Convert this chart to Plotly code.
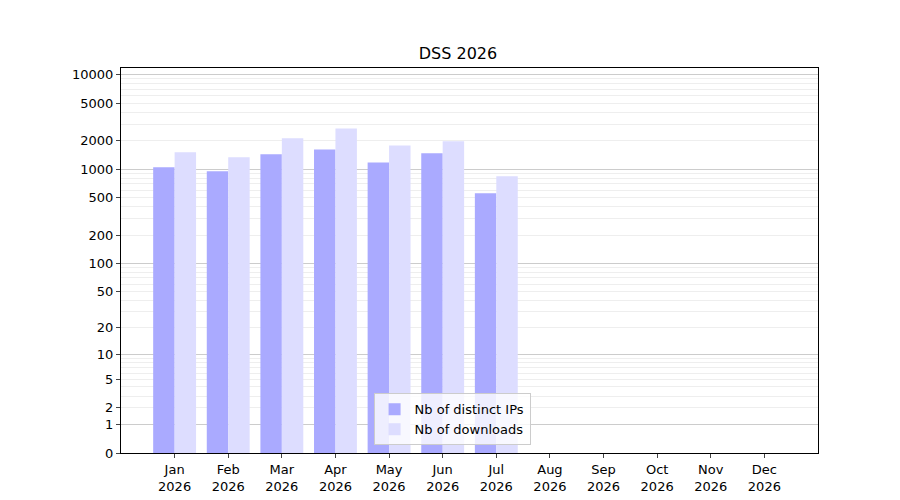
import math
import plotly.graph_objects as go

months = ["Jan","Feb","Mar","Apr","May","Jun","Jul","Aug","Sep","Oct","Nov","Dec"]
year = "2026"
ips = [1050, 950, 1440, 1620, 1180, 1470, 557]
downloads = [1510, 1335, 2120, 2700, 1780, 1970, 843]
tick_values = [0, 1, 2, 5, 10, 20, 50, 100, 200, 500, 1000, 2000, 5000, 10000]
decades = [1, 10, 100, 1000, 10000]

def tr(v):
    return math.log10(1 + v)

minor = [m * d for d in [1, 10, 100, 1000] for m in range(2, 10)]
xs = list(range(len(ips)))

fig = go.Figure()
fig.add_bar(x=xs, y=[tr(v) for v in ips], name="Nb of distinct IPs",
            marker=dict(color="#aaaaff", line_width=0))
fig.add_bar(x=xs, y=[tr(v) for v in downloads], name="Nb of downloads",
            marker=dict(color="#ddddff", line_width=0))
fig.add_scatter(x=[0], y=[0], yaxis="y2", mode="markers", marker_opacity=0,
                showlegend=False, hoverinfo="skip")

yr = [0, tr(10000) + 0.07]
fig.update_layout(
    width=900, height=500, paper_bgcolor="white", plot_bgcolor="white",
    margin=dict(l=113, r=90, t=60, b=55, autoexpand=False),
    font=dict(family="DejaVu Sans", size=13, color="black"),
    title=dict(text="DSS 2026", x=0.5, xanchor="center", y=0.91, yanchor="middle",
               font=dict(size=16)),
    barmode="group", bargap=0.2, bargroupgap=0,
    xaxis=dict(range=[-1, 12], tickmode="array", tickvals=list(range(12)),
               ticktext=[f"{m}<br>{year}" for m in months], showgrid=False,
               ticks="outside", ticklen=4, showline=True, linecolor="black", mirror=True,
               zeroline=False, automargin=False),
    yaxis=dict(range=yr, tickmode="array", tickvals=[tr(v) for v in tick_values],
               ticktext=[str(v) for v in tick_values], showgrid=False, zeroline=False,
               ticks="outside", ticklen=4, showline=True, linecolor="black", mirror=True,
               automargin=False,
               minor=dict(tickmode="array", tickvals=[tr(v) for v in minor],
                          showgrid=True, gridcolor="#eeeeee", ticks="")),
    yaxis2=dict(range=yr, overlaying="y", tickmode="array",
                tickvals=[tr(v) for v in decades], showticklabels=False,
                showgrid=True, gridcolor="#cccccc", zeroline=False, layer="below traces",
                automargin=False),
    legend=dict(x=0.475, y=0.02, xanchor="center", yanchor="bottom",
                bgcolor="rgba(255,255,255,0.8)", bordercolor="#cccccc", borderwidth=1,
                font=dict(size=13)),
)
fig.write_html("out.html")
